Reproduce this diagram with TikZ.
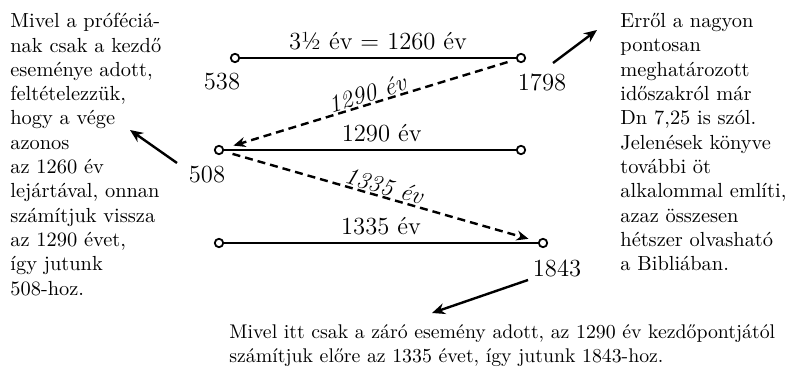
\documentclass[tikz,border=0pt]{standalone}
\usetikzlibrary{arrows.meta,positioning}

\begin{document}
\begin{tikzpicture}[
  x=0.5pt, y=-0.5pt,
  dot/.style={circle, draw, fill=white, line width=0.9pt, inner sep=0pt, minimum size=4.2pt},
  span/.style={line width=1.2pt},
  jump/.style={line width=1.2pt, dash pattern=on 4pt off 2.5pt, -{Stealth[length=6pt,width=5pt]}},
  note/.style={line width=1.2pt, -{Stealth[length=6.5pt,width=5.5pt]}},
  lab/.style={font=\fontsize{12.3}{14}\selectfont, inner sep=3.5pt},
  ital/.style={font=\fontsize{12.3}{14}\selectfont\itshape, sloped, above, inner sep=0.5pt},
  num/.style={font=\fontsize{12.3}{14}\selectfont, inner sep=0pt},
  txt/.style={font=\fontsize{10.2}{12.15}\selectfont, align=left, inner sep=0pt}
]
\useasboundingbox (0,0) rectangle (786,367);

% time points
\node[dot] (a538) at (235,58) {};
\node[dot] (a1798) at (521,58) {};
\node[dot] (b508) at (219,150) {};
\node[dot] (b1798) at (521,150) {};
\node[dot] (c508) at (219,243) {};
\node[dot] (c1843) at (543,243) {};

\node[num] (l538) at (222,82) {538};
\node[num] (l1798) at (542,82) {1798};
\node[num] (l508) at (207,175) {508};
\node[num] (l1843) at (557,268) {1843};

% periods
\draw[span] (a538) -- node[lab, above] {3½ év = 1260 év} (a1798);
\draw[span] (b508) -- node[lab, above, pos=0.54] {1290 év} (b1798);
\draw[span] (c508) -- node[lab, above] {1335 év} (c1843);

\draw[jump, shorten <=4.5pt, shorten >=5pt] (a1798) -- node[ital] {1290 év} (b508);
\draw[jump, shorten <=4.5pt, shorten >=5pt] (b508) -- node[ital] {1335 év} (c1843);

% notes
\node[txt, anchor=north west] (leftnote) at (10,13) {Mivel a próféciá-\\
nak csak a kezdő\\
eseménye adott,\\
feltételezzük,\\
hogy a vége\\
azonos\\
az 1260 év\\
lejártával, onnan\\
számítjuk vissza\\
az 1290 évet,\\
így jutunk\\
508-hoz.};
\node[txt, anchor=north west] (rightnote) at (620,13) {Erről a nagyon\\
pontosan\\
meghatározott\\
időszakról már\\
Dn 7,25 is szól.\\
Jelenések könyve\\
további öt\\
alkalommal említi,\\
azaz összesen\\
hétszer olvasható\\
a Bibliában.};
\node[txt, font=\fontsize{9.9}{12.15}\selectfont, anchor=north west] (bottomnote) at (229,324) {Mivel itt csak a záró esemény adott, az 1290 év kezdőpontjától\\
számítjuk előre az 1335 évet, így jutunk 1843-hoz.};

\coordinate (s508) at (177,163);
\coordinate (e508) at (130,130);
\coordinate (s1798) at (553,63);
\coordinate (e1798) at (597,30);
\coordinate (s1843) at (528,280);
\coordinate (e1843) at (432,313);
\draw[note] (s508) -- (e508);
\draw[note] (s1798) -- (e1798);
\draw[note] (s1843) -- (e1843);
\end{tikzpicture}
\end{document}
